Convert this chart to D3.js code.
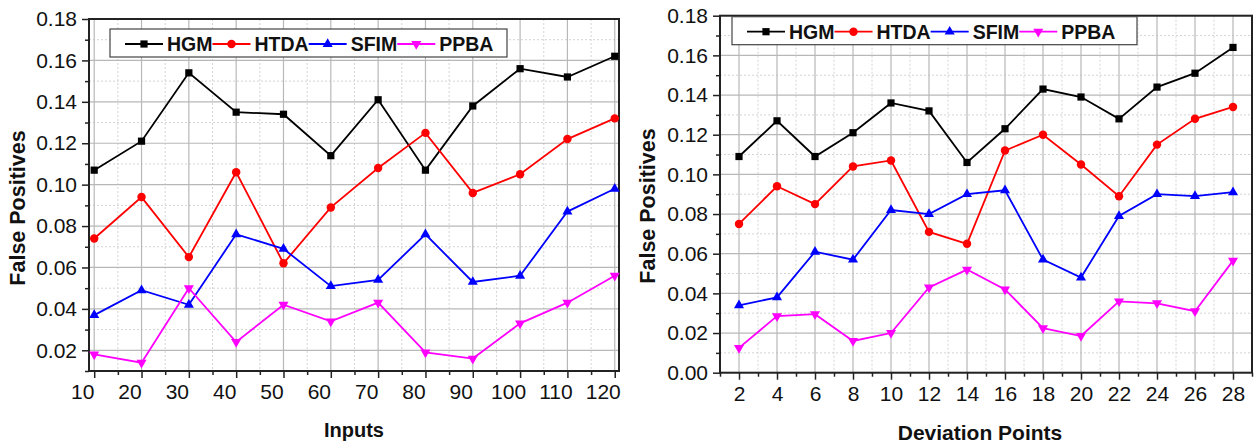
<!DOCTYPE html>
<html>
<head>
<meta charset="utf-8">
<script src="https://d3js.org/d3.v7.min.js"></script>
<style>
  body { margin: 0; background: #fff; }
  svg { display: block; font-family: "Liberation Sans", Arial, sans-serif; }
</style>
</head>
<body>
<div id="chart"></div>
<script>
// Series names and colours
const seriesNames = ["HGM", "HTDA", "SFIM", "PPBA"];
const seriesColors = ["#000000", "#ff0000", "#0000ff", "#ff00ff"];

// Left panel: Inputs
const inputs = [10, 20, 30, 40, 50, 60, 70, 80, 90, 100, 110, 120];
const inputsHGM  = [0.107, 0.121, 0.154, 0.135, 0.134, 0.114, 0.141, 0.107, 0.138, 0.156, 0.152, 0.162];
const inputsHTDA = [0.074, 0.094, 0.065, 0.106, 0.062, 0.089, 0.108, 0.125, 0.096, 0.105, 0.122, 0.132];
const inputsSFIM = [0.037, 0.049, 0.042, 0.076, 0.069, 0.051, 0.054, 0.076, 0.053, 0.056, 0.087, 0.098];
const inputsPPBA = [0.018, 0.014, 0.050, 0.024, 0.042, 0.034, 0.043, 0.019, 0.016, 0.033, 0.043, 0.056];
const inputsXTicks = [10, 20, 30, 40, 50, 60, 70, 80, 90, 100, 110, 120];
const inputsYTicks = [0.02, 0.04, 0.06, 0.08, 0.10, 0.12, 0.14, 0.16, 0.18];

// Right panel: Deviation Points
const devPoints = [2, 4, 6, 8, 10, 12, 14, 16, 18, 20, 22, 24, 26, 28];
const devHGM  = [0.109, 0.127, 0.109, 0.121, 0.136, 0.132, 0.106, 0.123, 0.143, 0.139, 0.128, 0.144, 0.151, 0.164];
const devHTDA = [0.075, 0.094, 0.085, 0.104, 0.107, 0.071, 0.065, 0.112, 0.120, 0.105, 0.089, 0.115, 0.128, 0.134];
const devSFIM = [0.034, 0.038, 0.061, 0.057, 0.082, 0.080, 0.090, 0.092, 0.057, 0.048, 0.079, 0.090, 0.089, 0.091];
const devPPBA = [0.0125, 0.0285, 0.0295, 0.016, 0.020, 0.043, 0.052, 0.042, 0.0225, 0.0185, 0.036, 0.035, 0.031, 0.0565];
const devXTicks = [2, 4, 6, 8, 10, 12, 14, 16, 18, 20, 22, 24, 26, 28];
const devYTicks = [0.00, 0.02, 0.04, 0.06, 0.08, 0.10, 0.12, 0.14, 0.16, 0.18];

const W = 1257, H = 446;

const svg = d3.select('#chart')
  .append('svg')
  .attr('width', W)
  .attr('height', H);

const symbols = [
  d3.symbol().type(d3.symbolSquare).size(52),
  d3.symbol().type(d3.symbolCircle).size(56),
  d3.symbol().type(d3.symbolTriangle).size(44),
  d3.symbol().type(d3.symbolTriangle).size(44)
];
const symbolRotate = [0, 0, 0, 180];

function drawPanel(opt) {
  const { left, top, right, bottom } = opt.box;
  const x = d3.scaleLinear().domain(opt.xDomain).range([left, right]);
  const y = d3.scaleLinear().domain(opt.yDomain).range([bottom, top]);
  const g = svg.append('g');

  // minor grid (dotted)
  g.append('g').selectAll('line')
    .data(opt.xMinor)
    .join('line')
    .attr('x1', d => x(d)).attr('x2', d => x(d))
    .attr('y1', top).attr('y2', bottom)
    .attr('stroke', '#d4d4d4').attr('stroke-width', 1)
    .attr('stroke-dasharray', '2,2');
  g.append('g').selectAll('line')
    .data(opt.yMinor)
    .join('line')
    .attr('x1', left).attr('x2', right)
    .attr('y1', d => y(d)).attr('y2', d => y(d))
    .attr('stroke', '#d4d4d4').attr('stroke-width', 1)
    .attr('stroke-dasharray', '2,2');

  // major grid
  g.append('g').selectAll('line')
    .data(opt.xTicks)
    .join('line')
    .attr('x1', d => x(d)).attr('x2', d => x(d))
    .attr('y1', top).attr('y2', bottom)
    .attr('stroke', '#b8b8b8').attr('stroke-width', 1.2);
  g.append('g').selectAll('line')
    .data(opt.yTicks)
    .join('line')
    .attr('x1', left).attr('x2', right)
    .attr('y1', d => y(d)).attr('y2', d => y(d))
    .attr('stroke', '#b8b8b8').attr('stroke-width', 1.2);

  // axes
  const xAxis = g.append('g')
    .attr('transform', `translate(0,${bottom})`)
    .call(d3.axisBottom(x).tickValues(opt.xTicks).tickSize(7).tickPadding(6).tickFormat(d3.format('d')));
  g.append('g')
    .attr('transform', `translate(0,${bottom})`)
    .call(d3.axisBottom(x).tickValues(opt.xMinor).tickSize(4).tickFormat(''))
    .call(a => a.select('.domain').remove());
  const yAxis = g.append('g')
    .attr('transform', `translate(${left},0)`)
    .call(d3.axisLeft(y).tickValues(opt.yTicks).tickSize(7).tickPadding(5).tickFormat(d3.format('.2f')));
  g.append('g')
    .attr('transform', `translate(${left},0)`)
    .call(d3.axisLeft(y).tickValues(opt.yMinor).tickSize(4).tickFormat(''))
    .call(a => a.select('.domain').remove());

  [xAxis, yAxis].forEach(a => {
    a.selectAll('text').attr('font-size', 21).attr('fill', '#111');
    a.select('.domain').remove();
  });
  g.selectAll('.tick line').attr('stroke', '#222').attr('stroke-width', 1.5);
  xAxis.selectAll('text').attr('dx', opt.xLabelShift || 0);

  // frame
  g.append('rect')
    .attr('x', left).attr('y', top)
    .attr('width', right - left).attr('height', bottom - top)
    .attr('fill', 'none').attr('stroke', '#222').attr('stroke-width', 2);

  // series
  const line = d3.line().x(d => x(d[0])).y(d => y(d[1]));
  opt.series.forEach((vals, si) => {
    const pts = opt.xs.map((xv, i) => [xv, vals[i]]);
    g.append('path')
      .datum(pts)
      .attr('d', line)
      .attr('fill', 'none')
      .attr('stroke', seriesColors[si])
      .attr('stroke-width', 1.8);
    g.append('g').selectAll('path')
      .data(pts)
      .join('path')
      .attr('d', symbols[si])
      .attr('transform', d => `translate(${x(d[0])},${y(d[1])}) rotate(${symbolRotate[si]})`)
      .attr('fill', seriesColors[si]);
  });

  // legend
  const lg = g.append('g');
  lg.append('rect')
    .attr('x', opt.legend.x).attr('y', opt.legend.y)
    .attr('width', opt.legend.w).attr('height', opt.legend.h)
    .attr('fill', '#fff').attr('stroke', '#444').attr('stroke-width', 1.2);
  let cx = opt.legend.x + 15;
  const cy = opt.legend.y + opt.legend.h / 2 + 1;
  seriesNames.forEach((name, si) => {
    const lineW = 38;
    lg.append('line')
      .attr('x1', cx).attr('x2', cx + lineW)
      .attr('y1', cy).attr('y2', cy)
      .attr('stroke', seriesColors[si]).attr('stroke-width', 1.8);
    lg.append('path')
      .attr('d', symbols[si])
      .attr('transform', `translate(${cx + lineW / 2},${cy}) rotate(${symbolRotate[si]})`)
      .attr('fill', seriesColors[si]);
    const t = lg.append('text')
      .attr('x', cx + lineW + 4).attr('y', cy + 7)
      .attr('font-size', 19.5).attr('font-weight', 'bold')
      .attr('fill', '#111')
      .text(name);
    cx += lineW + 4 + t.node().getComputedTextLength();
  });

  // axis titles
  g.append('text')
    .attr('x', opt.xTitleX).attr('y', opt.xTitleY)
    .attr('text-anchor', 'middle')
    .attr('font-size', opt.xTitleSize).attr('font-weight', 'bold').attr('fill', '#111')
    .text(opt.xTitle);
  g.append('text')
    .attr('transform', `translate(${opt.yTitleX},${opt.yTitleY}) rotate(-90)`)
    .attr('text-anchor', 'middle')
    .attr('font-size', 21.5).attr('font-weight', 'bold').attr('fill', '#111')
    .text('False Positives');
}

drawPanel({
  box: { left: 89, top: 19, right: 619, bottom: 371 },
  xDomain: [8.9, 120.9],
  yDomain: [0.01, 0.18],
  xs: inputs,
  series: [inputsHGM, inputsHTDA, inputsSFIM, inputsPPBA],
  xTicks: inputsXTicks,
  xMinor: d3.range(15, 120, 10),
  yTicks: inputsYTicks,
  yMinor: d3.range(0.01, 0.18, 0.02),
  xLabelShift: -12,
  legend: { x: 110, y: 29, w: 397, h: 28 },
  xTitle: 'Inputs',
  xTitleX: 354,
  xTitleY: 437,
  xTitleSize: 20,
  yTitleX: 25,
  yTitleY: 208
});

drawPanel({
  box: { left: 720, top: 15.7, right: 1252, bottom: 372.7 },
  xDomain: [1, 29],
  yDomain: [0, 0.18],
  xs: devPoints,
  series: [devHGM, devHTDA, devSFIM, devPPBA],
  xTicks: devXTicks,
  xMinor: d3.range(1, 30, 2),
  yTicks: devYTicks,
  yMinor: d3.range(0.01, 0.18, 0.02),
  legend: { x: 732, y: 16.7, w: 405, h: 28 },
  xTitle: 'Deviation Points',
  xTitleX: 980,
  xTitleY: 440,
  xTitleSize: 21,
  yTitleX: 655,
  yTitleY: 206
});
</script>
</body>
</html>
